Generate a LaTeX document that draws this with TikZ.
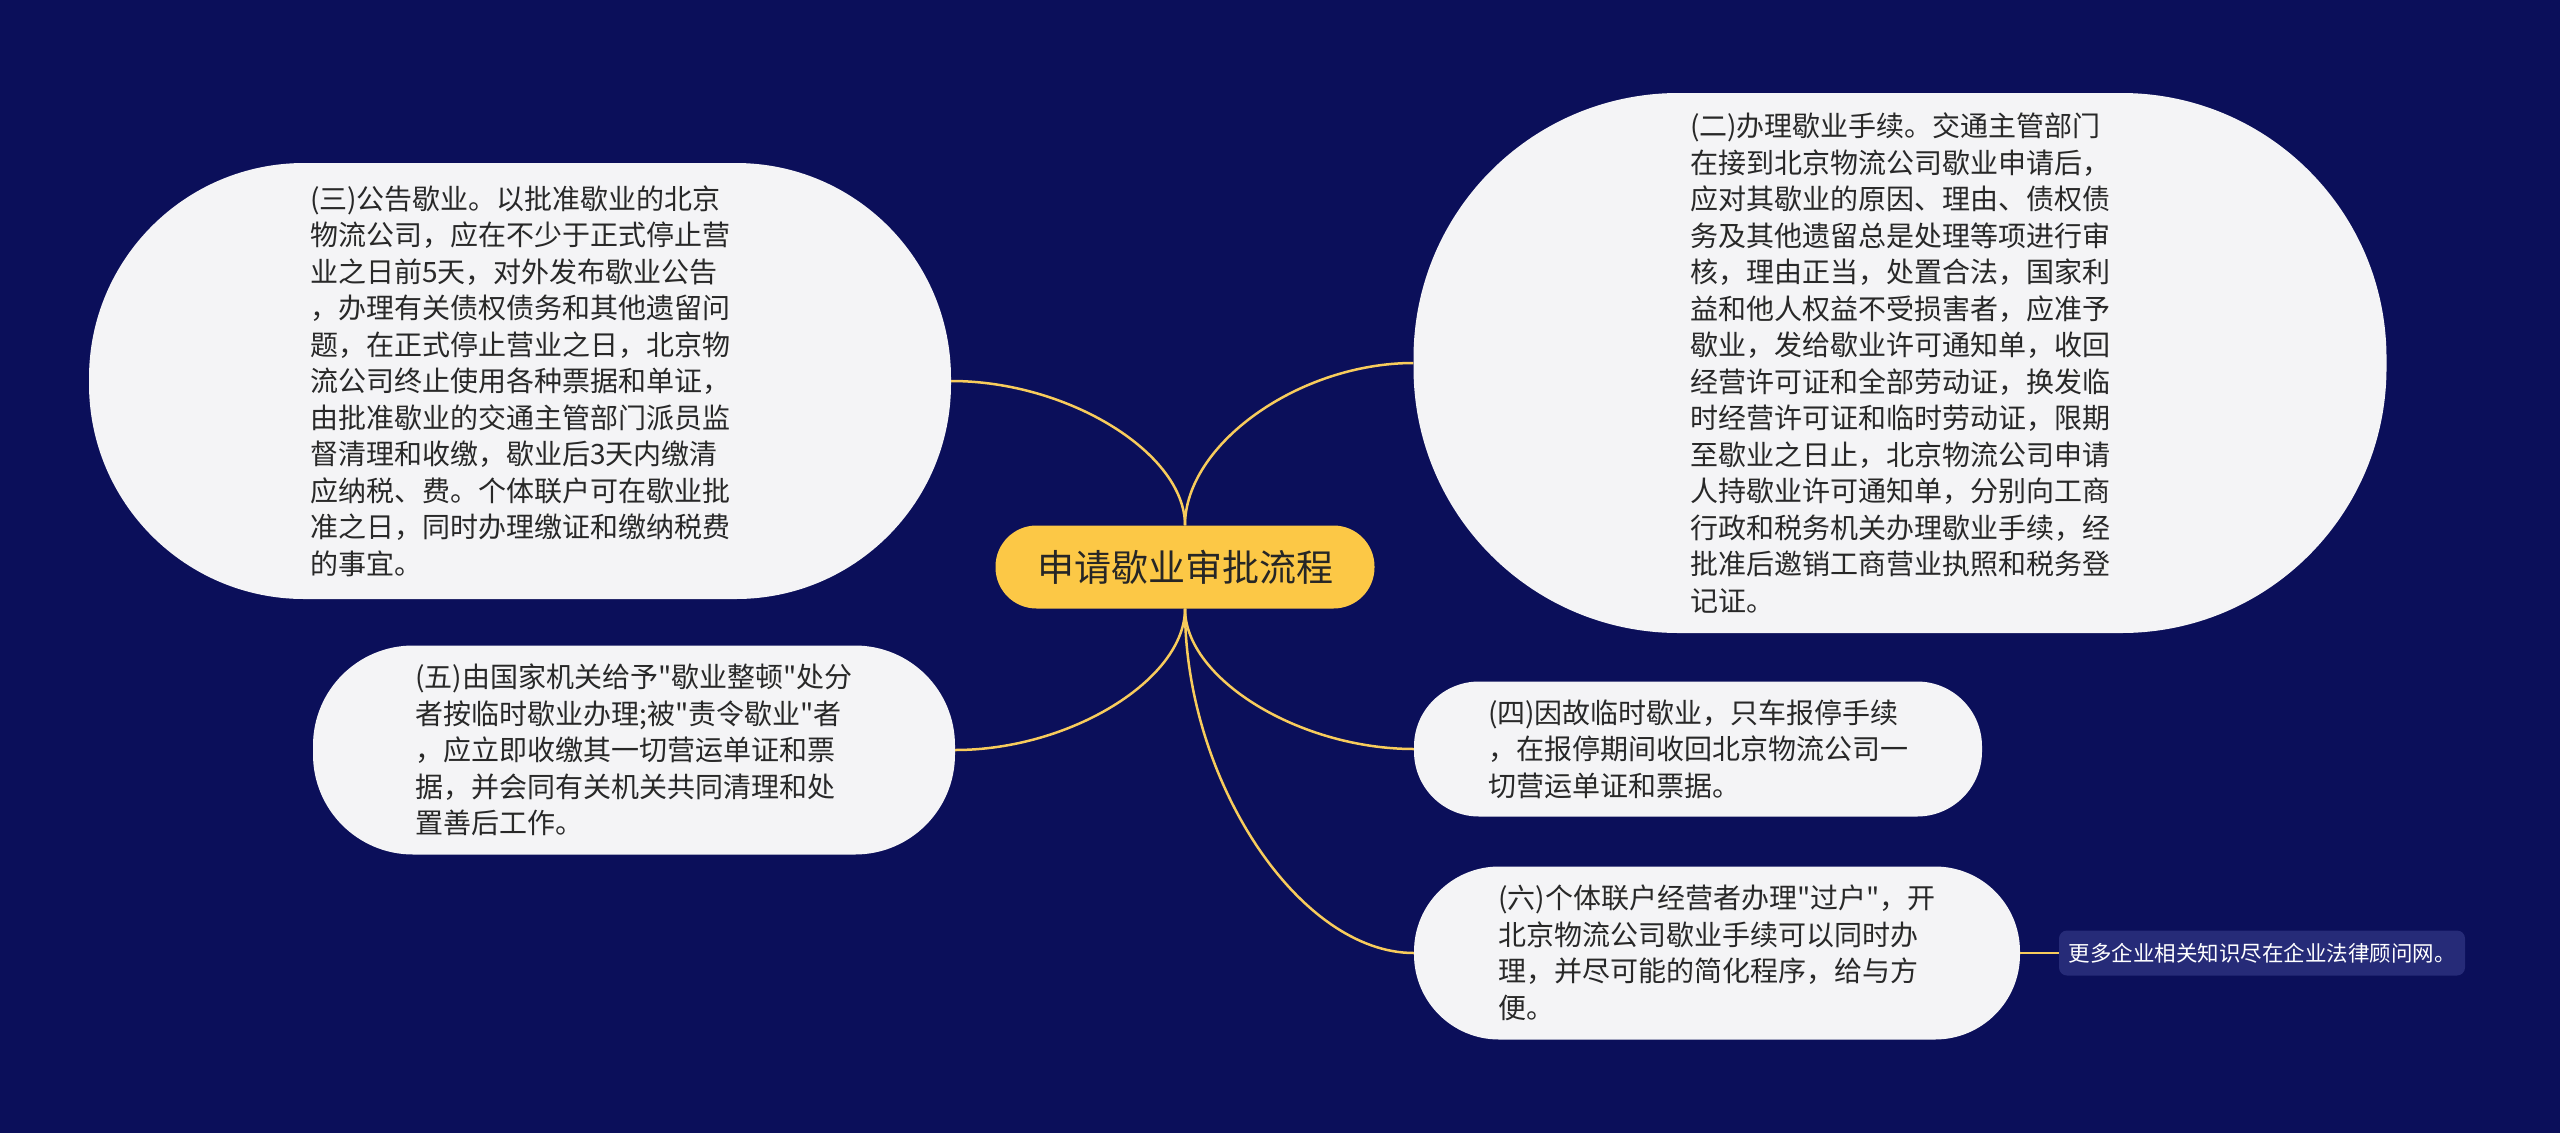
\documentclass[tikz,border=0pt]{standalone}
\usepackage{fontspec}
\setmainfont{Noto Sans CJK SC}[Ligatures=TeXOff]
\usetikzlibrary{calc}
\definecolor{bgnavy}{RGB}{11,15,90}
\definecolor{rootyellow}{RGB}{252,200,70}
\definecolor{linkyellow}{RGB}{248,204,92}
\definecolor{boxgrey}{RGB}{244,244,246}
\definecolor{textgrey}{RGB}{40,40,40}
\definecolor{tipblue}{RGB}{38,43,120}

\begin{document}
\begin{tikzpicture}[x=1pt,y=-1pt,
	root/.style={fill=rootyellow, text=black!85, inner sep=0pt, font=\fontsize{37}{40}\selectfont},
	branch/.style={fill=boxgrey, text=textgrey, align=left, inner sep=0pt, font=\fontsize{28}{36.5}\selectfont},
	tipbox/.style={fill=tipblue, text=white, inner sep=0pt, rounded corners=8pt, font=\fontsize{21.5}{25}\selectfont},
	link/.style={draw=linkyellow, line width=2.5pt}]
	% background
	\fill[bgnavy] (0,0) rectangle (2560,1133);
	\useasboundingbox (0,0) rectangle (2560,1133);
	
	% central topic
	\node[root, minimum width=379pt, minimum height=83pt, rounded corners=41pt] (root) at (1185,567) {申请歇业审批流程};
	
	% branches on the left
	\node[branch, minimum width=862pt, minimum height=436pt, rounded corners=215pt] (b3) at (520,381)
	{(三)公告歇业。以批准歇业的北京\\物流公司，应在不少于正式停止营\\业之日前5天，对外发布歇业公告\\，办理有关债权债务和其他遗留问\\题，在正式停止营业之日，北京物\\流公司终止使用各种票据和单证，\\由批准歇业的交通主管部门派员监\\督清理和收缴，歇业后3天内缴清\\应纳税、费。个体联户可在歇业批\\准之日，同时办理缴证和缴纳税费\\的事宜。};
	\node[branch, minimum width=642pt, minimum height=209pt, rounded corners=100pt] (b5) at (634,750)
	{(五)由国家机关给予"歇业整顿"处分\\者按临时歇业办理;被"责令歇业"者\\，应立即收缴其一切营运单证和票\\据，并会同有关机关共同清理和处\\置善后工作。};
	
	% branches on the right
	\node[branch, minimum width=973pt, minimum height=540pt, rounded corners=265pt] (b2) at (1900,363)
	{(二)办理歇业手续。交通主管部门\\在接到北京物流公司歇业申请后，\\应对其歇业的原因、理由、债权债\\务及其他遗留总是处理等项进行审\\核，理由正当，处置合法，国家利\\益和他人权益不受损害者，应准予\\歇业，发给歇业许可通知单，收回\\经营许可证和全部劳动证，换发临\\时经营许可证和临时劳动证，限期\\至歇业之日止，北京物流公司申请\\人持歇业许可通知单，分别向工商\\行政和税务机关办理歇业手续，经\\批准后邀销工商营业执照和税务登\\记证。};
	\node[branch, minimum width=568pt, minimum height=135pt, rounded corners=65pt] (b4) at (1698,749)
	{(四)因故临时歇业，只车报停手续\\，在报停期间收回北京物流公司一\\切营运单证和票据。};
	\node[branch, minimum width=606pt, minimum height=173pt, rounded corners=85pt] (b6) at (1717,953)
	{(六)个体联户经营者办理"过户"，开\\北京物流公司歇业手续可以同时办\\理，并尽可能的简化程序，给与方\\便。};
	
	% note
	\node[tipbox, minimum width=406pt, minimum height=45pt] (tip) at (2262,953) {更多企业相关知识尽在企业法律顾问网。};
	
	% connectors
	\foreach \from/\to in {north/b3.east, north/b2.west, south/b5.east, south/b4.west, south/b6.west}
		\draw[link] (root.\from) .. controls ($(root.\from)!0.5!(root.\from |- \to)$)
		and ($(\to)!0.5!(root.\from |- \to)$) .. (\to);
	\draw[link] (b6.east) -- (tip.west);
\end{tikzpicture}
\end{document}
